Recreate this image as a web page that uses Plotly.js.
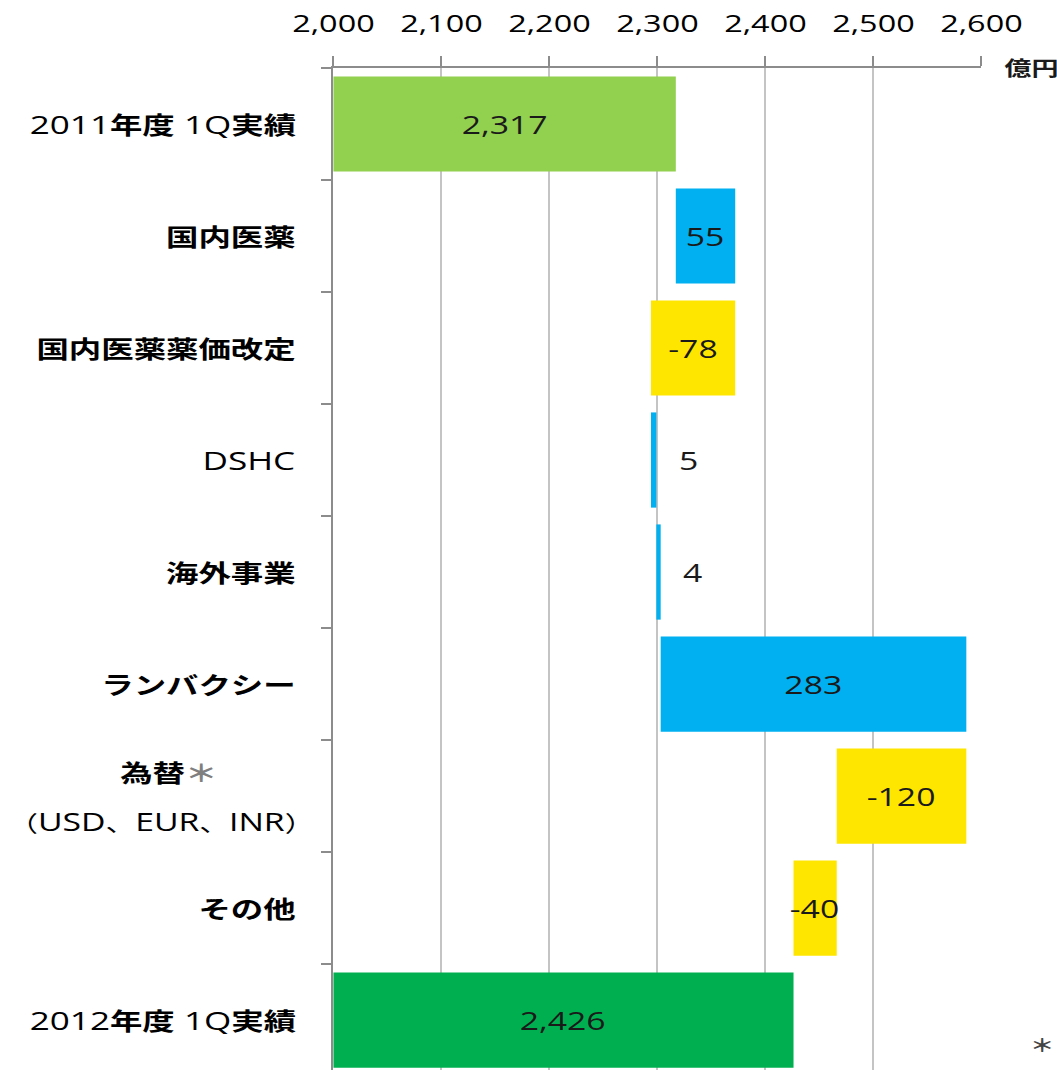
<!DOCTYPE html>
<html>
<head>
<meta charset="utf-8">
<script src="https://cdn.plot.ly/plotly-3.0.1.min.js"></script>
<style>
  html, body { margin: 0; padding: 0; background: #fff; overflow: hidden; }
  #wrap { width: 783px; height: 1070px; transform: scaleX(1.35); transform-origin: 0 0; }
</style>
</head>
<body>
<div id="wrap"></div>
<script>
// ---- data ----
const categories = ['2011年度 1Q実績', '国内医薬', '国内医薬薬価改定', 'DSHC', '海外事業', 'ランバクシー', '為替（USD、EUR、INR）', 'その他', '2012年度 1Q実績'];
const J = s => "<b><span style='font-size:24px'>" + s + "</span></b>";
const tickLabels = ['2011' + J('年度') + ' 1Q' + J('実績'), J('国内医薬'), J('国内医薬薬価改定'), 'DSHC', J('海外事業'), J('ランバクシー'),
  "<span style='font-size:22px'>（</span>USD<span style='font-size:22px'>、</span>EUR<span style='font-size:22px'>、</span>INR<span style='font-size:22px'>）</span>",
  J('その他'), '2012' + J('年度') + ' 1Q' + J('実績')];
const startTotal = 2317;
const deltas = [55, -78, 5, 4, 283, -120, -40];
const endTotal = 2426;
const xTicks = [2000, 2100, 2200, 2300, 2400, 2500, 2600];
const unitLabel = '億円';
const smallLabelIdx = [3, 4];

const colTotalStart = '#92D050', colTotalEnd = '#00B050', colUp = '#00B0F0', colDown = '#FFE600';
const FONT = 'Open Sans, Noto Sans CJK JP, sans-serif';

// ---- build waterfall bars ----
const xs = [], bases = [], colors = [], labels = [], centers = [], ends = [];
xs.push(startTotal); bases.push(0); colors.push(colTotalStart);
labels.push(startTotal.toLocaleString('en-US')); centers.push(2000 + (startTotal - 2000) / 2); ends.push(startTotal);
let cum = startTotal;
deltas.forEach(d => {
  xs.push(d); bases.push(cum); colors.push(d >= 0 ? colUp : colDown);
  labels.push(d.toLocaleString('en-US')); centers.push(cum + d / 2); ends.push(Math.max(cum, cum + d));
  cum += d;
});
xs.push(endTotal); bases.push(0); colors.push(colTotalEnd);
labels.push(endTotal.toLocaleString('en-US')); centers.push(2000 + (endTotal - 2000) / 2); ends.push(endTotal);

const trace = {
  type: 'bar', orientation: 'h', y: categories, x: xs, base: bases,
  width: 0.85, marker: { color: colors, line: { width: 0 } }, hoverinfo: 'none'
};

const annotations = [];
// data labels
labels.forEach((t, i) => {
  const small = smallLabelIdx.includes(i);
  annotations.push({
    xref: 'x', yref: 'y', x: small ? ends[i] : centers[i], y: categories[i],
    xanchor: small ? 'left' : 'center', yanchor: 'middle', xshift: small ? 15 : 0,
    text: t, showarrow: false, font: { family: FONT, size: 25, color: '#1a1a1a' }
  });
});
// category labels
tickLabels.forEach((t, i) => {
  if (i === 6) {
    annotations.push({ xref: 'paper', yref: 'y', x: 0, y: categories[i], xanchor: 'right', yanchor: 'middle',
      xshift: -84, yshift: 24, showarrow: false,
      text: "<b>為替</b><b><span style='color:#7f7f7f'>＊</span></b>", font: { family: FONT, size: 24, color: '#000' } });
    annotations.push({ xref: 'paper', yref: 'y', x: 0, y: categories[i], xanchor: 'right', yanchor: 'middle',
      xshift: -12, yshift: -25, showarrow: false, text: t, font: { family: FONT, size: 25, color: '#000' } });
  } else {
    annotations.push({ xref: 'paper', yref: 'y', x: 0, y: categories[i], xanchor: 'right', yanchor: 'middle',
      xshift: -26, showarrow: false, text: t, font: { family: FONT, size: 26, color: '#000' } });
  }
});
annotations.push({ xref: 'paper', yref: 'paper', x: 1.0317, y: 1.0, xanchor: 'left', yanchor: 'middle',
  showarrow: false, text: '<b>' + unitLabel + '</b>', font: { family: FONT, size: 20, color: '#1a1a1a' } });
annotations.push({ xref: 'paper', yref: 'paper', x: 1.1167, y: 0.025, xanchor: 'right', yanchor: 'middle',
  showarrow: false, text: '<b>＊</b>', font: { family: FONT, size: 18, color: '#444' } });

const layout = {
  width: 783, height: 1070,
  margin: { l: 247, r: 56, t: 68, b: 0, pad: 0 },
  paper_bgcolor: '#fff', plot_bgcolor: '#fff',
  showlegend: false,
  font: { family: FONT, size: 24, color: '#000' },
  xaxis: {
    side: 'top', range: [2000, 2600], tickvals: xTicks, tickformat: ',',
    ticks: 'outside', ticklen: 10, tickwidth: 1.5, tickcolor: '#8c8c8c',
    showline: true, linecolor: '#8c8c8c', linewidth: 2,
    showgrid: true, gridcolor: '#c4c4c4', gridwidth: 1.5, zeroline: false,
    tickfont: { family: FONT, size: 24, color: '#000' }, ticklabelstandoff: 14, fixedrange: true
  },
  yaxis: {
    type: 'category', categoryorder: 'array', categoryarray: categories,
    range: [8.446, -0.5], showticklabels: false,
    ticks: 'outside', tickson: 'boundaries', ticklen: 8, tickwidth: 2, tickcolor: '#8c8c8c',
    showline: true, linecolor: '#8c8c8c', linewidth: 1.5, showgrid: false, zeroline: false, fixedrange: true
  },
  bargap: 0.15,
  annotations: annotations
};

Plotly.newPlot('wrap', [trace], layout, { staticPlot: true, displayModeBar: false });
</script>
</body>
</html>
